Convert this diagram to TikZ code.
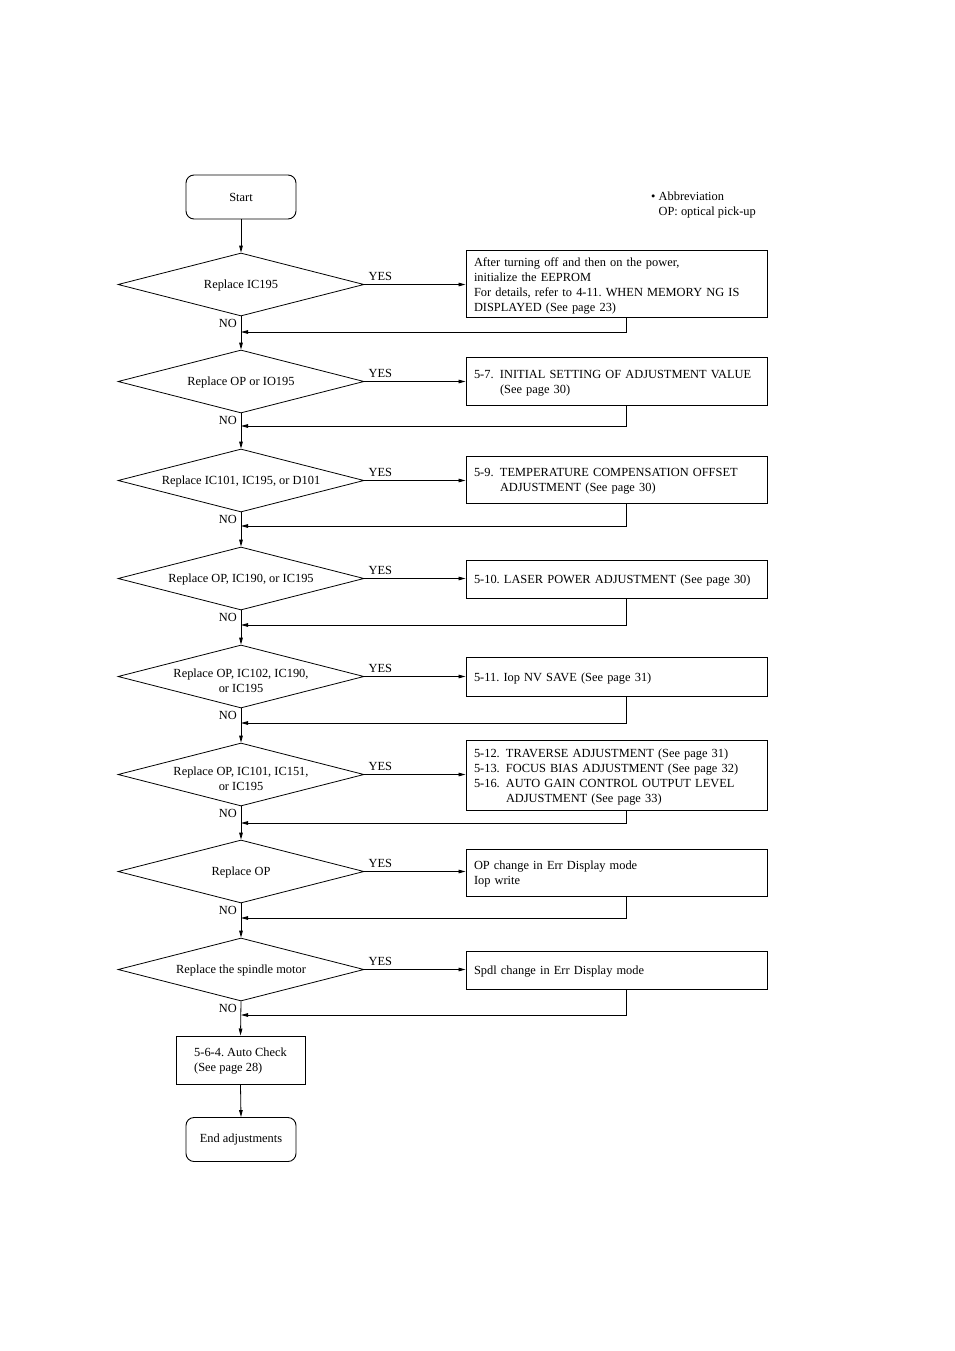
\documentclass[tikz,border=0pt]{standalone}
\usepackage{fontspec}
\setmainfont{Liberation Serif}
\usetikzlibrary{shapes.geometric,arrows.meta,calc}
\frenchspacing
\begin{document}
\frenchspacing
\begin{tikzpicture}[x=1pt,y=-1pt,
  every node/.style={font=\fontsize{12.4}{15}\selectfont\frenchspacing},
  arr/.style={line width=0.8pt,-{Triangle[length=7pt,width=3.6pt]}},
  term/.style={draw,line width=0.9pt,rounded corners=8pt,minimum width=110pt,minimum height=44pt,inner sep=0},
  dec/.style={draw,diamond,line width=0.8pt,minimum width=246pt,minimum height=63pt,inner sep=0},
  dtext/.style={align=center,inner sep=0},
  act/.style={draw,line width=1pt,minimum width=301pt,inner sep=0},
  atext/.style={text width=285pt,inner sep=0,align=left},
  lbl/.style={inner sep=0}]
\useasboundingbox (0,0) rectangle (954,1351);

% abbreviation note
\node[lbl,anchor=west,align=left] (abbr) at (651,205.5) {\textbullet\ Abbreviation\\\phantom{\textbullet\ }OP: optical pick-up};

% terminals
\node[term] (start) at (241,197) {Start};

% decisions
\node[dec] (d1) at (241,284.5) {};
\node[dec] (d2) at (241,381.5) {};
\node[dec] (d3) at (241,480.5) {};
\node[dec] (d4) at (241,578.5) {};
\node[dec] (d5) at (241,676.5) {};
\node[dec] (d6) at (241,774.5) {};
\node[dec] (d7) at (241,871.5) {};
\node[dec] (d8) at (241,969.5) {};

\node[dtext] (t1) at ($(d1)+(0,1)$) {Replace IC195};
\node[dtext] (t2) at ($(d2)+(0,1)$) {Replace OP or IO195};
\node[dtext] (t3) at ($(d3)+(0,1)$) {Replace IC101, IC195, or D101};
\node[dtext] (t4) at ($(d4)+(0,1)$) {Replace OP, IC190, or IC195};
\node[dtext] (t5) at ($(d5)+(0,4)$) {Replace OP, IC102, IC190,\\or IC195};
\node[dtext] (t6) at ($(d6)+(0,4)$) {Replace OP, IC101, IC151,\\or IC195};
\node[dtext] (t7) at ($(d7)+(0,1)$) {Replace OP};
\node[dtext] (t8) at ($(d8)+(0,1)$) {Replace the spindle motor};

% action boxes
\node[act,minimum height=67pt] (b1) at (616.5,283.5) {};
\node[act,minimum height=48pt] (b2) at (616.5,381) {};
\node[act,minimum height=47pt] (b3) at (616.5,479.5) {};
\node[act,minimum height=38pt] (b4) at (616.5,579) {};
\node[act,minimum height=39pt] (b5) at (616.5,676.5) {};
\node[act,minimum height=70pt] (b6) at (616.5,775) {};
\node[act,minimum height=47pt] (b7) at (616.5,872.5) {};
\node[act,minimum height=38pt] (b8) at (616.5,970) {};

\node[atext] (bt1) at ($(b1)+(0,2)$) {After turning off and then on the power,\\initialize the EEPROM\\For details, refer to 4-11. WHEN MEMORY NG IS\\DISPLAYED (See page 23)};
\node[atext] (bt2) at ($(b2)+(0,2)$) {\makebox[26pt][l]{5-7.}INITIAL SETTING OF ADJUSTMENT VALUE\\\hspace*{26pt}(See page 30)};
\node[atext] (bt3) at ($(b3)+(0,2)$) {\makebox[26pt][l]{5-9.}TEMPERATURE COMPENSATION OFFSET\\\hspace*{26pt}ADJUSTMENT (See page 30)};
\node[atext] (bt4) at ($(b4)+(0,2)$) {5-10. LASER POWER ADJUSTMENT (See page 30)};
\node[atext] (bt5) at ($(b5)+(0,2)$) {5-11. Iop NV SAVE (See page 31)};
\node[atext] (bt6) at ($(b6)+(0,2)$) {\makebox[32pt][l]{5-12.}TRAVERSE ADJUSTMENT (See page 31)\\\makebox[32pt][l]{5-13.}FOCUS BIAS ADJUSTMENT (See page 32)\\\makebox[32pt][l]{5-16.}AUTO GAIN CONTROL OUTPUT LEVEL\\\hspace*{32pt}ADJUSTMENT (See page 33)};
\node[atext] (bt7) at ($(b7)+(0,2)$) {OP change in Err Display mode\\Iop write};
\node[atext] (bt8) at ($(b8)+(0,2)$) {Spdl change in Err Display mode};

\node[draw,line width=1pt,minimum width=129pt,minimum height=48pt,inner sep=0] (ac) at (240.5,1060) {};
\node[lbl,align=left] (act) at ($(ac)+(0,1.5)$) {5-6-4. Auto Check\\(See page 28)};
\node[term] (end) at (241,1139.5) {End adjustments};

% join points on the main line
\coordinate (j1) at (241,332);
\coordinate (j2) at (241,426);
\coordinate (j3) at (241,526);
\coordinate (j4) at (241,625);
\coordinate (j5) at (241,723);
\coordinate (j6) at (241,823);
\coordinate (j7) at (241,918);
\coordinate (j8) at (241,1015);

% main flow
\draw[arr] (start.south) -- (d1.north);
\draw[arr] (d1.south) -- (d2.north);
\draw[arr] (d2.south) -- (d3.north);
\draw[arr] (d3.south) -- (d4.north);
\draw[arr] (d4.south) -- (d5.north);
\draw[arr] (d5.south) -- (d6.north);
\draw[arr] (d6.south) -- (d7.north);
\draw[arr] (d7.south) -- (d8.north);
\draw[arr] (d8.south) -- (ac.north);
\draw[arr] (ac.south) -- (end.north);

% YES branches, returns and labels
\foreach \i in {1,...,8}{
  \draw[arr] (d\i.east) -- (d\i.east -| b\i.west);
  \draw[arr] ([xshift=9.5pt]b\i.south) |- (j\i);
  \node[lbl] (yes\i) at ($(d\i.east)+(16,-8)$) {YES};
  \node[lbl,anchor=east] (no\i) at ($(d\i.south)+(-4,7)$) {NO};
}
\end{tikzpicture}
\end{document}
